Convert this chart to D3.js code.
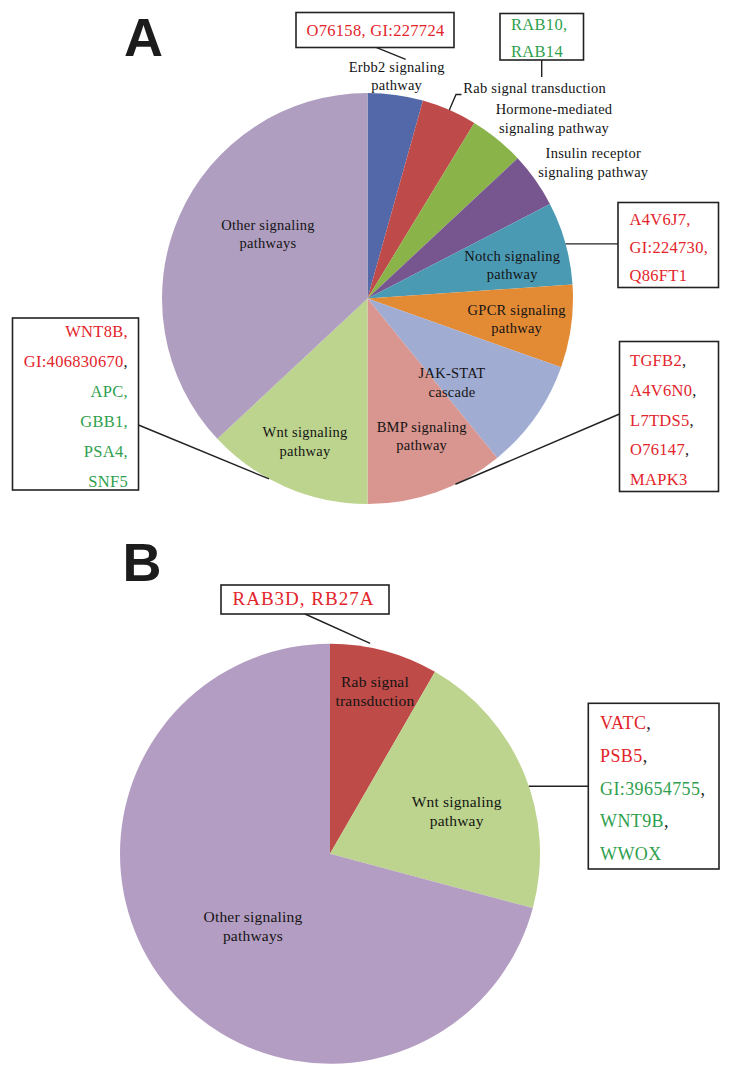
<!DOCTYPE html>
<meta charset="utf-8">
<style>
    body{ margin:0; background:#fff; }
    .slice-label{ font-family:"Liberation Serif","Times New Roman",serif; fill:#141414; }
    .box-text{ font-family:"Liberation Serif","Times New Roman",serif; }
    .panel-letter{ font-family:"Liberation Sans",Arial,sans-serif; font-weight:bold; font-size:54px; fill:#1c1c1c; }
</style>
<body>
<svg id="chart" width="734" height="1080"></svg>
<script src="https://d3js.org/d3.v7.min.js"></script>
<script>
    // ---- data: panel A ----
    var pathwaysA = ["Erbb2 signaling pathway", "Rab signal transduction", "Hormone-mediated signaling pathway",
                     "Insulin receptor signaling pathway", "Notch signaling pathway", "GPCR signaling pathway",
                     "JAK-STAT cascade", "BMP signaling pathway", "Wnt signaling pathway", "Other signaling pathways"];
    var countsA = [2, 2, 2, 2, 3, 3, 4, 5, 6, 17];
    var colorsA = ["#5268a8", "#be4b49", "#8ab34a", "#77558f", "#4b9ab4", "#e38b34", "#a1acd3", "#d9958f", "#bdd48e", "#b09ec0"];

    var erbb2ProteinsA = ["O76158", "GI:227724"];
    var erbb2RegA = ["up", "up"];
    var rabProteinsA = ["RAB10", "RAB14"];
    var rabRegA = ["down", "down"];
    var notchProteinsA = ["A4V6J7", "GI:224730", "Q86FT1"];
    var notchRegA = ["up", "up", "up"];
    var bmpProteinsA = ["TGFB2", "A4V6N0", "L7TDS5", "O76147", "MAPK3"];
    var bmpRegA = ["up", "up", "up", "up", "up"];
    var wntProteinsA = ["WNT8B", "GI:406830670", "APC", "GBB1", "PSA4", "SNF5"];
    var wntRegA = ["up", "up", "down", "down", "down", "down"];

    // ---- data: panel B ----
    var pathwaysB = ["Rab signal transduction", "Wnt signaling pathway", "Other signaling pathways"];
    var countsB = [2, 5, 17];
    var colorsB = ["#be4b48", "#bcd48d", "#b49dc2"];

    var rabProteinsB = ["RAB3D", "RB27A"];
    var rabRegB = ["up", "up"];
    var wntProteinsB = ["VATC", "PSB5", "GI:39654755", "WNT9B", "WWOX"];
    var wntRegB = ["up", "up", "down", "down", "down"];

    var regColor = {up: "#e3242b", down: "#2f9f4e"};

    var svg = d3.select("#chart");

    var panels = [
        {
            letter: "A", lx: 124, ly: 56,
            cx: 367.5, cy: 298.5, r: 205.5,
            names: pathwaysA, values: countsA, colors: colorsA,
            labelSize: 14.5, labelLs: 0.25, lh: 18.3,
            labels: [
                {i: 0, x: 396.7, y: 71.7, brk: 2},
                {i: 1, x: 463.3, y: 93.3, brk: 0, anchor: "start"},
                {i: 2, x: 554, y: 114.3, brk: 1},
                {i: 3, x: 593.3, y: 158.3, brk: 2},
                {i: 4, x: 512.3, y: 261, brk: 2},
                {i: 5, x: 516.7, y: 315, brk: 2},
                {i: 6, x: 452, y: 378.3, brk: 1},
                {i: 7, x: 421.7, y: 431.7, brk: 2},
                {i: 8, x: 305, y: 437.3, brk: 2},
                {i: 9, x: 268, y: 230, brk: 2}
            ],
            boxes: [
                {p: erbb2ProteinsA, reg: erbb2RegA, x: 296, y: 12.5, w: 158, h: 35, tx: 306.5, ty: 36, inline: true, size: 16.5, ls: 0.3},
                {p: rabProteinsA, reg: rabRegA, x: 500, y: 13.5, w: 83.5, h: 46.5, tx: 511, ty: 30, lh: 27, size: 16.5, ls: 0.3, comma: "same"},
                {p: notchProteinsA, reg: notchRegA, x: 618, y: 202.5, w: 100.5, h: 85, tx: 629.5, ty: 225, lh: 27.8, size: 16.5, ls: 0.3, comma: "same"},
                {p: bmpProteinsA, reg: bmpRegA, x: 619.5, y: 341.5, w: 99, h: 150, tx: 630, ty: 366, lh: 29.8, size: 16.5, ls: 0.3, comma: "black"},
                {p: wntProteinsA, reg: wntRegA, x: 12.5, y: 318, w: 126, h: 172, tx: 128, ty: 336.7, lh: 30.1, size: 16.5, ls: 0.3,
                 anchor: "end", comma: ["same", "black", "same", "same", "same"]}
            ],
            leaders: [
                {pts: [[376.7, 47.7], [405.7, 59.3]]},
                {slice: 1, frac: 0.5, k: 1, pts: [[456, 94.5], [461.5, 94.5]]},
                {pts: [[541.7, 60], [541.7, 77]]},
                {slice: 4, frac: 0.51, k: 1, pts: [[618, null]]},
                {slice: 7, frac: 0.353, k: 1, pts: [[619.5, 414]]},
                {slice: 8, frac: 0.61, k: 1, pts: [[138.5, 425]]}
            ]
        },
        {
            letter: "B", lx: 122.5, ly: 580.7,
            cx: 330, cy: 853.7, r: 210,
            names: pathwaysB, values: countsB, colors: colorsB,
            labelSize: 15.5, labelLs: 0.2, lh: 19,
            labels: [
                {i: 0, x: 375, y: 686.7, brk: 2},
                {i: 1, x: 456.7, y: 806.7, brk: 2},
                {i: 2, x: 253, y: 921.7, brk: 2}
            ],
            boxes: [
                {p: rabProteinsB, reg: rabRegB, x: 221, y: 585, w: 168, h: 29, tx: 232.5, ty: 605, inline: true, size: 19, ls: 1.0},
                {p: wntProteinsB, reg: wntRegB, x: 588.3, y: 703.3, w: 130.7, h: 165.7, tx: 600, ty: 729.3, lh: 32.7, size: 18, ls: 0.4, comma: "black"}
            ],
            leaders: [
                {slice: 0, frac: 0.36, k: 1.02, pts: [[305, 614]]},
                {slice: 1, frac: 0.55, k: 1, pts: [[588.3, null]]}
            ]
        }
    ];

    panels.forEach(drawPanel);

    function drawPanel(p){
        var arcs = d3.pie().sort(null).value(function(d){ return d; })(p.values);
        var arc = d3.arc().innerRadius(0).outerRadius(p.r);

        var g = svg.append("g").attr("transform", "translate(" + p.cx + "," + p.cy + ")");
        g.selectAll("path")
         .data(arcs)
         .join("path")
         .attr("d", arc)
         .attr("fill", function(d, i){ return p.colors[i]; });

        // slice names
        p.labels.forEach(function(l){
            var words = p.names[l.i].split(" ");
            var lines = l.brk ? [words.slice(0, l.brk).join(" "), words.slice(l.brk).join(" ")] : [words.join(" ")];
            var t = svg.append("text")
                       .attr("class", "slice-label")
                       .attr("font-size", p.labelSize)
                       .attr("letter-spacing", p.labelLs)
                       .attr("text-anchor", l.anchor || "middle");
            lines.forEach(function(s, j){
                t.append("tspan").attr("x", l.x).attr("y", l.y + j*p.lh).text(s);
            });
        });

        // leader lines
        p.leaders.forEach(function(ld){
            var pts = [];
            if(ld.slice != null){
                var a = arcs[ld.slice];
                var ang = a.startAngle + ld.frac*(a.endAngle - a.startAngle);
                var pr = d3.pointRadial(ang, p.r*ld.k);
                pts.push([p.cx + pr[0], p.cy + pr[1]]);
            }
            ld.pts.forEach(function(q){
                var prev = pts[pts.length - 1];
                pts.push([q[0], q[1] == null ? prev[1] : q[1]]);
            });
            svg.append("path")
               .attr("d", d3.line()(pts))
               .attr("fill", "none")
               .attr("stroke", "#222")
               .attr("stroke-width", 1.4);
        });

        // protein boxes
        p.boxes.forEach(function(b){
            svg.append("rect")
               .attr("x", b.x).attr("y", b.y)
               .attr("width", b.w).attr("height", b.h)
               .attr("fill", "#fff")
               .attr("stroke", "#222")
               .attr("stroke-width", 1.6);
            if(b.inline){
                svg.append("text")
                   .attr("class", "box-text")
                   .attr("x", b.tx).attr("y", b.ty)
                   .attr("font-size", b.size)
                   .attr("letter-spacing", b.ls)
                   .attr("fill", regColor[b.reg[0]])
                   .text(b.p.join(", "));
                return;
            }
            b.p.forEach(function(name, j){
                var t = svg.append("text")
                           .attr("class", "box-text")
                           .attr("x", b.tx).attr("y", b.ty + j*b.lh)
                           .attr("font-size", b.size)
                           .attr("letter-spacing", b.ls)
                           .attr("text-anchor", b.anchor || "start");
                var c = regColor[b.reg[j]];
                t.append("tspan").attr("fill", c).text(name);
                if(j < b.p.length - 1){
                    var mode = Array.isArray(b.comma) ? b.comma[j] : b.comma;
                    t.append("tspan").attr("fill", mode == "black" ? "#1c1c1c" : c).text(",");
                }
            });
        });

        svg.append("text")
           .attr("class", "panel-letter")
           .attr("x", p.lx).attr("y", p.ly)
           .text(p.letter);
    }
</script>
</body>
